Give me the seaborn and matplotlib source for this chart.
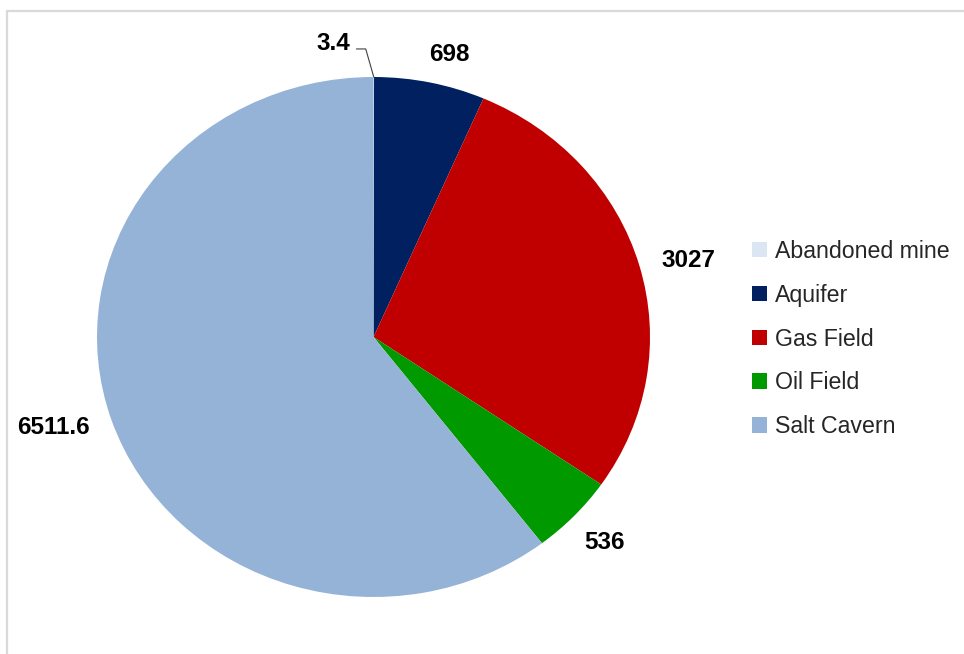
import numpy as np
import matplotlib
matplotlib.use("Agg")
import matplotlib.pyplot as plt
from matplotlib.patches import Rectangle
import seaborn as sns

# ---- data ----
categories = ["Abandoned mine", "Aquifer", "Gas Field", "Oil Field", "Salt Cavern"]
values = [3.4, 698, 3027, 536, 6511.6]
value_labels = ["3.4", "698", "3027", "536", "6511.6"]
colors = ["#DCE6F2", "#002060", "#C00000", "#009900", "#95B3D7"]

# label placement (style): radial distance and angular nudge in degrees
label_dist = [1.13, 1.12, 1.177, 1.15, 1.21]
label_nudge = [0.0, -2.5, -1.6, 0.0, -2.0]

sns.set_theme(style="white")
plt.rcParams["font.family"] = ["Liberation Sans", "DejaVu Sans"]

W, H = 964, 654
fig = plt.figure(figsize=(W / 100, H / 100), dpi=100)
fig.patch.set_facecolor("white")

# pie axes (elliptical pie like reference)
left, right, top, bottom = 97, 650, 77, 597
ax = fig.add_axes([left / W, 1 - bottom / H, (right - left) / W, (bottom - top) / H])

wedges, _ = ax.pie(values, colors=colors, startangle=90, counterclock=False,
                   wedgeprops=dict(linewidth=0))
ax.set_aspect("auto")
ax.set_xlim(-1, 1)
ax.set_ylim(-1, 1)
ax.axis("off")

for i, (w, lab) in enumerate(zip(wedges, value_labels)):
    mid_deg = (w.theta1 + w.theta2) / 2
    mid = np.deg2rad(mid_deg)
    ang = np.deg2rad(mid_deg + label_nudge[i])
    d = label_dist[i]
    if i == 0:
        # tiny slice: label offset to the left with a leader line
        ax.annotate(lab, xy=(np.cos(mid), np.sin(mid)),
                    xytext=(np.cos(mid) * d - 0.146, np.sin(mid) * d),
                    ha="center", va="center", fontsize=17.5, fontweight="bold",
                    color="black",
                    arrowprops=dict(arrowstyle="-", color="#404040", lw=0.8,
                                    connectionstyle="angle,angleA=0,angleB=106",
                                    relpos=(1.0, 0.25), shrinkA=2, shrinkB=0))
    else:
        ax.text(np.cos(ang) * d, np.sin(ang) * d, lab, ha="center", va="center",
                fontsize=17.5, fontweight="bold", color="black")

# legend
handles = [plt.Rectangle((0, 0), 1, 1, facecolor=c, edgecolor="none") for c in colors]
fig.legend(handles, categories, loc="center left",
           bbox_to_anchor=(752 / W, 1 - 339 / H), frameon=False,
           fontsize=16.7, handlelength=0.65, handleheight=0.65,
           handletextpad=0.35, labelspacing=0.9, borderpad=0, borderaxespad=0)

# chart frame (partially visible in reference)
fig.patches.append(Rectangle((6.5 / W, -0.2), 1.5, 1.2 - 10.5 / H,
                             transform=fig.transFigure, fill=False,
                             edgecolor="#D9D9D9", lw=1.6))

fig.savefig("out.png", dpi=100, facecolor="white")
